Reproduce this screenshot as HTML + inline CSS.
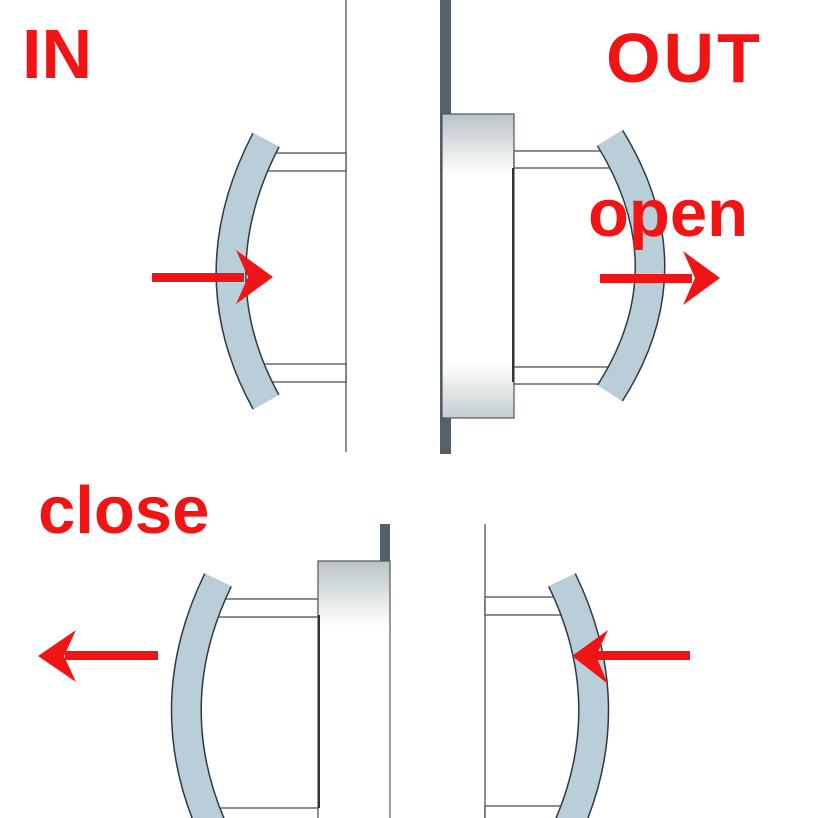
<!DOCTYPE html>
<html><head><style>
html,body{margin:0;padding:0;background:#fff;overflow:hidden;width:818px;height:818px;}
svg{display:block;}
text{font-family:"Liberation Sans",Arial,sans-serif;fill:#f01414;font-weight:bold;}
</style></head><body>
<svg width="818" height="818" viewBox="0 0 818 818" xmlns="http://www.w3.org/2000/svg">
<defs>
<linearGradient id="pl" x1="0" y1="0" x2="0" y2="1">
<stop offset="0" stop-color="#b9c3c6"/><stop offset="0.2" stop-color="#fff"/><stop offset="0.82" stop-color="#fff"/><stop offset="1" stop-color="#c5cdcf"/>
</linearGradient>
<linearGradient id="pl2" x1="0" y1="0" x2="0" y2="1">
<stop offset="0" stop-color="#b9c3c6"/><stop offset="0.25" stop-color="#fff"/><stop offset="1" stop-color="#fff"/>
</linearGradient>
</defs>
<line x1="346" y1="0" x2="346" y2="452" stroke="#555" stroke-width="1.3"/>
<rect x="440" y="0" width="11" height="454" fill="#55606a"/>
<rect x="262" y="153" width="84" height="18" fill="#fff" stroke="#444" stroke-width="1.2"/>
<rect x="262" y="364" width="84" height="18" fill="#fff" stroke="#444" stroke-width="1.2"/>
<rect x="442" y="114" width="72" height="304" fill="url(#pl)" stroke="#555" stroke-width="1.2"/>
<line x1="513" y1="168" x2="513" y2="382" stroke="#333" stroke-width="2"/>
<rect x="514" y="151" width="96" height="17" fill="#fff" stroke="#444" stroke-width="1.2"/>
<rect x="514" y="367" width="96" height="17" fill="#fff" stroke="#444" stroke-width="1.2"/>
<path d="M266,140 Q196,275 266,402" fill="none" stroke="#2f3a40" stroke-width="31"/>
<path d="M266,140 Q196,275 266,402" fill="none" stroke="#b9ced8" stroke-width="28"/>
<path d="M610,138 Q690,268 610,393" fill="none" stroke="#2f3a40" stroke-width="31"/>
<path d="M610,138 Q690,268 610,393" fill="none" stroke="#b9ced8" stroke-width="28"/>
<rect x="152" y="273" width="92" height="9" fill="#f01414"/>
<polygon points="236,250 273,277 236,304 248,277" fill="#f01414"/>
<rect x="600" y="274" width="92" height="9" fill="#f01414"/>
<polygon points="683,251 720,278 683,305 695,278" fill="#f01414"/>
<text x="22" y="78" font-size="70">IN</text>
<text x="606" y="82" font-size="70" letter-spacing="3">OUT</text>
<text x="588" y="236" font-size="67">open</text>
<rect x="380" y="524" width="10" height="40" fill="#55606a"/>
<line x1="485" y1="524" x2="485" y2="818" stroke="#555" stroke-width="1.3"/>
<rect x="218" y="599" width="100" height="18" fill="#fff" stroke="#444" stroke-width="1.2"/>
<rect x="218" y="808" width="100" height="14" fill="#fff" stroke="#444" stroke-width="1.2"/>
<rect x="318" y="561" width="72" height="262" fill="url(#pl2)" stroke="#555" stroke-width="1.2"/>
<line x1="319" y1="615" x2="319" y2="808" stroke="#333" stroke-width="2"/>
<rect x="485" y="597" width="82" height="18" fill="#fff" stroke="#444" stroke-width="1.2"/>
<rect x="485" y="806" width="82" height="16" fill="#fff" stroke="#444" stroke-width="1.2"/>
<path d="M218,580 Q150,720 228,860" fill="none" stroke="#2f3a40" stroke-width="31"/>
<path d="M218,580 Q150,720 228,860" fill="none" stroke="#b9ced8" stroke-width="28"/>
<path d="M562,580 Q630,720 552,860" fill="none" stroke="#2f3a40" stroke-width="31"/>
<path d="M562,580 Q630,720 552,860" fill="none" stroke="#b9ced8" stroke-width="28"/>
<rect x="65" y="651" width="93" height="9" fill="#f01414"/>
<polygon points="76,630 38,656 76,682 64,656" fill="#f01414"/>
<rect x="590" y="651" width="100" height="9" fill="#f01414"/>
<polygon points="608,630 572,656 608,684 596,656" fill="#f01414"/>
<text x="38" y="533" font-size="67">close</text>
</svg>
</body></html>
